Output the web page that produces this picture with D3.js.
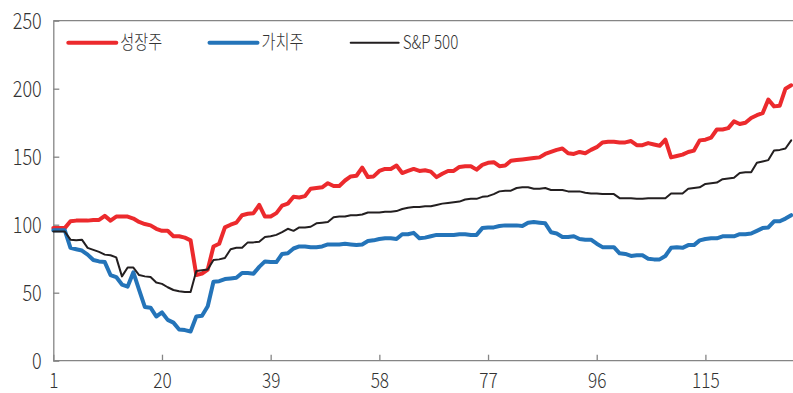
<!DOCTYPE html>
<html>
<head>
<meta charset="utf-8">
<script src="https://cdn.jsdelivr.net/npm/d3@7"></script>
<style>
  html, body { margin: 0; padding: 0; background: #fff; }
  svg { display: block; }
  text { font-family: "Noto Sans CJK KR", "Noto Sans", sans-serif; fill: #333; font-weight: 300; }
</style>
</head>
<body>
<svg id="chart" width="793" height="393"></svg>
<script>
// Index level of each style (period 1 = base), one value per period
const growth = [
  97.5, 97.5, 97.5, 102.5, 103, 103, 103, 103.5, 103.5, 106.5,
  103, 106, 106, 106, 104.5, 102, 100.5, 99.5, 97, 95.5,
  95.5, 91.5, 91.5, 90.5, 88.5, 63, 64, 67, 84, 86,
  98, 100, 101.5, 107, 108, 108.5, 114.5, 106, 106, 108.5,
  114, 115.5, 120.5, 120, 121, 126.5, 127, 127.5, 130.5, 128.5,
  128.5, 132.5, 135.5, 136, 142, 135, 135.5, 139.5, 141, 141,
  143.5, 138, 139.5, 141, 139.5, 140, 139, 135, 137.5, 139.5,
  139.5, 142.5, 143, 143, 140.5, 144, 145.5, 146, 143, 143.5,
  147, 147.5, 148, 148.5, 149, 149.5, 152, 153.5, 155, 156,
  152.5, 152, 153.5, 152.5, 155, 157, 160.5, 161, 161, 160.5,
  160.5, 161.5, 158.5, 158.5, 160, 159, 158, 162.5, 149.5, 150.5,
  151.5, 153.5, 154.5, 162, 162.5, 164, 170, 170, 171, 176,
  174, 175, 178.5, 180.5, 182, 192, 187, 187.5, 200, 202.5
];
const value = [
  96, 96, 96, 83, 82, 81, 78, 74, 73, 72.5,
  63, 61.5, 56, 54.5, 65, 52, 39.5, 39, 32.5, 35.5,
  30, 28, 23, 22.5, 21.5, 32.5, 33, 40, 58, 58.5,
  60, 60.5, 61, 64.5, 64.5, 64, 69, 73, 72.5, 72.5,
  78.5, 79, 82.5, 84, 84, 83.5, 83.5, 84, 85.5, 85.5,
  85.5, 86, 85.5, 85, 85.5, 88, 88.5, 89.5, 90, 90,
  89.5, 93, 93, 94, 90, 90.5, 91.5, 92.5, 92.5, 92.5,
  92.5, 93, 93, 92.5, 92.5, 97.5, 98, 98, 99, 99.5,
  99.5, 99.5, 99, 101.5, 102, 101.5, 101, 94.5, 93.5, 91,
  91, 91.5, 89.5, 89, 89, 86, 83.5, 83.5, 83.5, 79,
  78.5, 77, 77.5, 77.5, 75, 74.5, 74.5, 77, 83, 83.5,
  83, 85, 85, 88.5, 89.5, 90, 90, 91.5, 91.5, 91.5,
  93, 93, 93.5, 95.5, 97.5, 98, 102.5, 102.5, 104.5, 107
];
const sp500 = [
  95, 95, 95, 89, 88.5, 89, 83, 81.5, 80, 78,
  77.5, 76, 62, 68.5, 68.5, 63, 62, 61.5, 57.5, 56.5,
  54, 52, 51, 50.5, 50.5, 66, 66.5, 67, 74, 74.5,
  75.5, 82, 83, 83, 87, 87, 87.5, 91, 91.5, 92.5,
  94.5, 97, 95.5, 98, 98, 98.5, 101, 101.5, 102, 105.5,
  106, 106, 107, 107, 107.5, 109, 109, 109, 109.5, 109.5,
  110, 111.5, 112.5, 113, 113, 113.5, 113.5, 114.5, 115.5, 116,
  116.5, 117, 118.5, 119, 119, 120.5, 121, 122.5, 124.5, 125,
  125, 127, 127.5, 127.5, 126.5, 126.5, 127, 125.5, 125.5, 125.5,
  124.5, 124.5, 124.5, 123.5, 123, 123, 122.5, 122.5, 122.5, 119.5,
  119.5, 119.5, 119, 119, 119.5, 119.5, 119.5, 119.5, 123, 123,
  123, 126.5, 127, 127.5, 130, 130.5, 131, 133.5, 134, 134.5,
  138, 138.5, 138.5, 145.5, 146.5, 147.5, 154.5, 155, 156, 162
];
const seriesNames = ["성장주", "가치주", "S&P 500"];
const xTicks = [1, 20, 39, 58, 77, 96, 115];
const yTicks = [0, 50, 100, 150, 200, 250];

const width = 793, height = 393;
const svg = d3.select("#chart");

const x = d3.scaleLinear().domain([1, growth.length]).range([53.3, 791.2]);
const y = d3.scaleLinear().domain([0, 250]).range([360.7, 20.7]);

const axisColor = "#858585";

// Y axis with inward ticks
const yAxis = svg.append("g")
  .attr("transform", `translate(${x.range()[0]},0)`)
  .call(d3.axisLeft(y).tickValues(yTicks).tickSize(-6).tickSizeOuter(0).tickFormat(d3.format("d")));
yAxis.select(".domain").attr("stroke", axisColor).attr("stroke-width", 1.3);
yAxis.selectAll(".tick line").attr("stroke", axisColor).attr("stroke-width", 1.3);
yAxis.selectAll(".tick text")
  .attr("x", 0).attr("dy", "0.34em")
  .attr("transform", "translate(-11.6,0) scale(0.82,1)")
  .style("font-size", "22px").attr("fill", "#333");

// X axis with inward ticks
const xAxis = svg.append("g")
  .attr("transform", `translate(0,${y(0)})`)
  .call(d3.axisBottom(x).tickValues(xTicks).tickSize(-6).tickSizeOuter(0).tickFormat(d3.format("d")));
xAxis.select(".domain").remove();
xAxis.append("line")
  .attr("x1", x.range()[0]).attr("x2", width)
  .attr("stroke", axisColor).attr("stroke-width", 1.3);
xAxis.selectAll(".tick line").attr("stroke", axisColor).attr("stroke-width", 1.3);
xAxis.selectAll(".tick text")
  .attr("y", 27.3).attr("dy", null)
  .attr("transform", "scale(0.82,1)")
  .style("font-size", "21px").attr("fill", "#333");

// Top frame line
svg.append("line")
  .attr("x1", x.range()[0]).attr("x2", width)
  .attr("y1", y(250)).attr("y2", y(250))
  .attr("stroke", axisColor).attr("stroke-width", 1.3);

// Series lines
const series = [
  { name: seriesNames[0], values: growth, color: "#ec2a2d", w: 4 },
  { name: seriesNames[1], values: value, color: "#2474b9", w: 4 },
  { name: seriesNames[2], values: sp500, color: "#231f20", w: 2 }
];

const line = d3.line()
  .x((d, i) => x(i + 1))
  .y(d => y(d));

svg.append("g").selectAll("path")
  .data(series)
  .join("path")
  .attr("d", d => line(d.values))
  .attr("fill", "none")
  .attr("stroke", d => d.color)
  .attr("stroke-width", d => d.w)
  .attr("stroke-linejoin", "round")
  .attr("stroke-linecap", "round");

// Legend
const legend = svg.append("g").attr("transform", "translate(68.3,42.7)");
const item = legend.selectAll("g")
  .data(series)
  .join("g")
  .attr("transform", (d, i) => `translate(${i * 141.2},0)`);
item.append("line")
  .attr("x1", 0).attr("x2", 48)
  .attr("stroke", d => d.color)
  .attr("stroke-width", d => d.w)
  .attr("stroke-linecap", "round");
item.append("text")
  .attr("transform", "translate(52,0) scale(0.8,1)")
  .attr("dy", "0.35em")
  .style("font-size", "19px")
  .text(d => d.name);
</script>
</body>
</html>
